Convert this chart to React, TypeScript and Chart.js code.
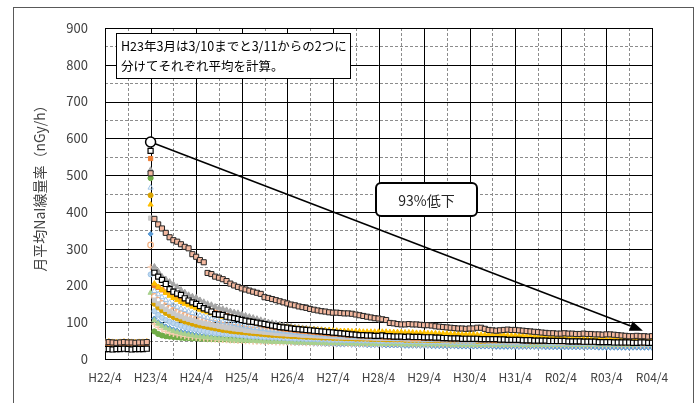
import React, { useEffect, useRef } from 'react';
import { Chart, registerables } from 'chart.js';
Chart.register(...registerables);

// ---- axis labels ----
const xTickLabels = ['H22/4', 'H23/4', 'H24/4', 'H25/4', 'H26/4', 'H27/4', 'H28/4', 'H29/4', 'H30/4', 'H31/4', 'R02/4', 'R03/4', 'R04/4'];
const yTitle = '月平均NaI線量率（nGy/h）';
const noteLines = ['H23年3月は3/10までと3/11からの2つに', '分けてそれぞれ平均を計算。'];
const dropText = '93%低下';

// ---- series (index 0..11: H22/4..H23/3(~3/10), 12: H23/3(3/11~), 13..144: H23/4..R04/3) ----
const seriesP = [45, 46, 45, 44, 45, 46, 45, 45, 44, 45, 45, 46, 505,
  381, 366, 355, 343, 331, 323, 319, 312, 305, 301, 285, 278,
  269, 263, 234, 231, 224, 221, 217, 212, 205, 200, 196, 192,
  189, 186, 183, 180, 177, 168, 166, 163, 160, 157, 154, 151,
  148, 146, 143, 141, 139, 136, 134, 132, 130, 129, 127, 126,
  126, 125, 124, 124, 123, 121, 119, 117, 115, 113, 111, 110,
  108, 106, 98, 97, 95, 94, 94, 95, 94, 94, 93, 92,
  92, 91, 89, 88, 87, 86, 85, 84, 83, 83, 82, 83,
  83, 85, 85, 82, 79, 78, 77, 78, 79, 80, 79, 79,
  78, 77, 76, 75, 74, 73, 72, 71, 70, 70, 69, 69,
  70, 69, 69, 68, 68, 69, 68, 68, 67, 67, 66, 67,
  67, 66, 65, 64, 63, 62, 62, 63, 62, 62, 61, 62];

const seriesB = [27, 27, 26, 27, 27, 28, 27, 26, 27, 27, 27, 28, 566,
  235, 224, 215, 204, 190, 183, 178, 174, 165, 159, 154, 150,
  144, 138, 134, 129, 122, 121, 120, 115, 113, 111, 109, 106,
  104, 102, 101, 99, 97, 95, 93, 91, 89, 87, 86, 85,
  83, 82, 81, 80, 79, 78, 77, 76, 75, 74, 73, 72,
  71, 70, 69, 68, 67, 66, 65, 65, 64, 64, 63, 63,
  64, 62, 62, 61, 61, 61, 60, 61, 60, 60, 60, 59,
  59, 59, 58, 58, 57, 57, 56, 56, 56, 55, 55, 55,
  55, 55, 54, 54, 54, 54, 54, 53, 53, 52, 52, 52,
  52, 51, 51, 51, 50, 50, 50, 50, 49, 49, 49, 49,
  49, 48, 48, 48, 48, 47, 47, 47, 47, 46, 46, 46,
  46, 45, 45, 45, 45, 45, 44, 44, 45, 45, 44, 44];

const seriesG = [44, 44, 43, 43, 44, 45, 44, 44, 43, 44, 44, 45, 514,
  251, 238, 224, 217, 210, 203, 196, 188, 181, 174, 170, 167,
  160, 155, 150, 147, 142, 138, 136, 133, 130, 127, 125, 122,
  118, 115, 112, 109, 106, 103, 100, 98, 96, 94, 92, 90,
  88, 86, 85, 84, 83, 82, 81, 80, 79, 78, 77, 76,
  75, 74, 73, 72, 71, 70, 70, 69, 68, 68, 67, 67,
  67, 66, 66, 65, 65, 64, 64, 64, 63, 63, 63, 62,
  62, 62, 61, 61, 60, 60, 60, 59, 59, 59, 58, 58,
  58, 58, 57, 57, 57, 56, 56, 56, 55, 55, 55, 54,
  54, 54, 54, 53, 53, 53, 53, 52, 52, 52, 52, 51,
  51, 51, 51, 50, 50, 50, 50, 50, 49, 49, 49, 49,
  49, 48, 48, 48, 48, 48, 47, 47, 47, 47, 47, 47];

const seriesY = [46, 47, 46, 45, 46, 47, 46, 46, 45, 46, 46, 47, 420,
  205, 196, 188, 180, 172, 166, 160, 155, 150, 146, 142, 138,
  134, 130, 127, 124, 121, 118, 115, 113, 111, 109, 107, 105,
  103, 101, 99, 97, 95, 93, 92, 90, 89, 88, 87, 86,
  85, 84, 83, 82, 81, 80, 80, 79, 79, 78, 78, 77,
  77, 76, 76, 76, 75, 75, 75, 74, 74, 74, 74, 74,
  74, 74, 73, 73, 73, 73, 72, 72, 72, 71, 71, 71,
  70, 70, 70, 69, 69, 69, 68, 68, 68, 67, 67, 67,
  67, 66, 66, 66, 66, 65, 65, 65, 65, 64, 64, 64,
  63, 63, 62, 62, 61, 60, 60, 59, 59, 58, 58, 57,
  57, 56, 56, 56, 55, 55, 55, 54, 54, 54, 53, 53,
  53, 53, 52, 52, 52, 52, 51, 51, 51, 51, 51, 50];

const seriesO = [42, 42, 41, 41, 42, 43, 42, 42, 41, 42, 42, 43, 545,
  200, 195, 188, 182, 176, 170, 165, 160, 156, 152, 148, 145,
  141, 137, 133, 130, 127, 124, 121, 118, 115, 112, 110, 107,
  104, 101, 99, 97, 95, 92, 90, 88, 86, 84, 82, 81,
  80, 78, 77, 76, 75, 74, 73, 72, 71, 70, 69, 68,
  68, 67, 66, 65, 65, 64, 63, 63, 62, 62, 61, 61,
  60, 60, 59, 59, 59, 58, 58, 58, 57, 57, 57, 56,
  56, 56, 55, 55, 55, 55, 54, 54, 54, 53, 53, 53,
  53, 52, 52, 52, 52, 51, 51, 51, 51, 50, 50, 50,
  50, 50, 49, 49, 49, 49, 48, 48, 48, 48, 48, 47,
  47, 47, 47, 47, 46, 46, 46, 46, 46, 45, 45, 45,
  45, 45, 45, 44, 44, 44, 44, 44, 44, 43, 43, 43];

const seriesLB = [40, 40, 39, 40, 40, 41, 40, 40, 39, 40, 40, 41, 466,
  185, 176, 168, 160, 153, 147, 142, 137, 133, 129, 125, 122,
  118, 115, 112, 109, 106, 103, 101, 99, 97, 95, 93, 91,
  89, 87, 85, 84, 82, 81, 79, 78, 77, 76, 75, 74,
  73, 72, 71, 70, 69, 68, 67, 66, 66, 65, 64, 64,
  63, 62, 62, 61, 61, 60, 60, 59, 59, 58, 58, 57,
  57, 57, 56, 56, 55, 55, 55, 54, 54, 54, 53, 53,
  53, 52, 52, 52, 51, 51, 51, 51, 50, 50, 50, 50,
  49, 49, 49, 49, 48, 48, 48, 48, 47, 47, 47, 47,
  47, 46, 46, 46, 46, 46, 45, 45, 45, 45, 45, 44,
  44, 44, 44, 44, 44, 43, 43, 43, 43, 43, 43, 42,
  42, 42, 42, 42, 42, 42, 41, 41, 41, 41, 41, 41];

const seriesBL = [38, 38, 37, 38, 38, 39, 38, 38, 37, 38, 38, 39, 340,
  110, 100, 93, 88, 84, 80, 77, 74, 72, 70, 68, 66,
  64, 63, 61, 60, 59, 58, 57, 56, 55, 54, 53, 52,
  52, 51, 50, 50, 49, 48, 48, 47, 47, 46, 46, 45,
  45, 44, 44, 44, 43, 43, 42, 42, 42, 41, 41, 41,
  40, 40, 40, 40, 39, 39, 39, 39, 38, 38, 38, 38,
  38, 37, 37, 37, 37, 37, 36, 36, 36, 36, 36, 36,
  36, 35, 35, 35, 35, 35, 35, 35, 34, 34, 34, 34,
  34, 34, 34, 34, 34, 34, 33, 33, 33, 33, 33, 33,
  33, 33, 33, 33, 33, 33, 33, 32, 32, 32, 32, 32,
  32, 32, 32, 32, 32, 32, 32, 32, 32, 31, 31, 31,
  31, 31, 31, 31, 31, 31, 31, 31, 31, 31, 31, 31];

const seriesGR = [41, 41, 40, 40, 41, 42, 41, 41, 40, 41, 41, 42, 492,
  75, 68, 64, 62, 61, 60, 59, 58, 57, 57, 56, 56,
  55, 55, 54, 54, 54, 53, 53, 53, 52, 52, 52, 51,
  51, 51, 51, 50, 50, 50, 50, 49, 49, 49, 49, 48,
  48, 48, 48, 48, 47, 47, 47, 47, 47, 46, 46, 46,
  46, 46, 46, 46, 46, 45, 45, 45, 45, 45, 45, 45,
  45, 45, 45, 44, 44, 44, 44, 44, 44, 44, 44, 44,
  44, 44, 44, 44, 44, 44, 43, 43, 43, 43, 43, 43,
  43, 43, 43, 43, 43, 43, 43, 43, 43, 43, 43, 43,
  43, 43, 43, 43, 43, 43, 43, 43, 43, 42, 42, 42,
  42, 42, 42, 42, 42, 42, 42, 42, 42, 42, 42, 42,
  42, 42, 42, 42, 42, 42, 42, 42, 42, 42, 42, 42];

const seriesGD = [43, 43, 42, 42, 43, 44, 43, 43, 42, 43, 43, 44, 445,
  150, 140, 132, 125, 119, 114, 110, 106, 102, 99, 96, 93,
  91, 89, 87, 85, 83, 81, 79, 78, 76, 75, 74, 73,
  72, 71, 70, 69, 68, 67, 66, 65, 65, 64, 63, 63,
  62, 62, 61, 61, 60, 60, 59, 59, 58, 58, 58, 57,
  57, 57, 56, 56, 56, 55, 55, 55, 55, 54, 54, 54,
  54, 53, 53, 53, 53, 53, 52, 52, 52, 52, 52, 52,
  51, 51, 51, 51, 51, 51, 50, 50, 50, 50, 50, 50,
  50, 49, 49, 49, 49, 49, 49, 49, 48, 48, 48, 48,
  48, 48, 48, 47, 47, 47, 47, 47, 47, 47, 46, 46,
  46, 46, 46, 46, 46, 46, 45, 45, 45, 45, 45, 45,
  45, 45, 45, 45, 44, 44, 44, 44, 44, 44, 44, 44];

const seriesLGray = [42, 43, 42, 41, 42, 43, 42, 42, 41, 42, 42, 43, 383,
  160, 150, 142, 135, 129, 124, 119, 115, 111, 108, 105, 102,
  99, 97, 95, 93, 91, 89, 87, 85, 84, 82, 81, 80,
  78, 77, 76, 75, 74, 73, 72, 71, 70, 69, 69, 68,
  67, 67, 66, 65, 65, 64, 64, 63, 63, 62, 62, 61,
  61, 60, 60, 60, 59, 59, 59, 58, 58, 58, 57, 57,
  57, 57, 56, 56, 56, 56, 55, 55, 55, 55, 55, 54,
  54, 54, 54, 54, 53, 53, 53, 53, 53, 52, 52, 52,
  52, 52, 52, 51, 51, 51, 51, 51, 51, 50, 50, 50,
  50, 50, 50, 50, 49, 49, 49, 49, 49, 49, 49, 48,
  48, 48, 48, 48, 48, 48, 48, 47, 47, 47, 47, 47,
  47, 47, 47, 47, 46, 46, 46, 46, 46, 46, 46, 46];

const seriesLO = [44, 45, 44, 43, 44, 45, 44, 44, 43, 44, 44, 45, 310,
  170, 160, 151, 144, 138, 132, 127, 123, 119, 115, 112, 109,
  106, 103, 100, 98, 96, 94, 92, 90, 88, 86, 85, 83,
  82, 80, 79, 78, 77, 76, 75, 74, 73, 72, 71, 70,
  69, 69, 68, 67, 67, 66, 65, 65, 64, 64, 63, 63,
  62, 62, 61, 61, 61, 60, 60, 60, 59, 59, 59, 58,
  58, 58, 58, 57, 57, 57, 57, 56, 56, 56, 56, 55,
  55, 55, 55, 55, 54, 54, 54, 54, 54, 53, 53, 53,
  53, 53, 53, 52, 52, 52, 52, 52, 52, 51, 51, 51,
  51, 51, 51, 51, 50, 50, 50, 50, 50, 50, 50, 49,
  49, 49, 49, 49, 49, 49, 49, 48, 48, 48, 48, 48,
  48, 48, 48, 48, 48, 47, 47, 47, 47, 47, 47, 47];

const seriesPL = [47, 48, 47, 46, 47, 48, 47, 47, 46, 47, 47, 48, 250,
  95, 86, 80, 75, 71, 68, 66, 64, 62, 60, 59, 58,
  57, 56, 55, 54, 53, 52, 52, 51, 50, 50, 49, 49,
  48, 48, 47, 47, 47, 46, 46, 46, 45, 45, 45, 45,
  44, 44, 44, 44, 43, 43, 43, 43, 43, 42, 42, 42,
  42, 42, 42, 41, 41, 41, 41, 41, 41, 41, 40, 40,
  40, 40, 40, 40, 40, 40, 40, 40, 39, 39, 39, 39,
  39, 39, 39, 39, 39, 39, 39, 39, 38, 38, 38, 38,
  38, 38, 38, 38, 38, 38, 38, 38, 38, 38, 37, 37,
  37, 37, 37, 37, 37, 37, 37, 37, 37, 37, 37, 37,
  37, 37, 36, 36, 36, 36, 36, 36, 36, 36, 36, 36,
  36, 36, 36, 36, 36, 36, 36, 36, 36, 36, 36, 36];

const seriesLBC = [39, 39, 38, 39, 39, 40, 39, 39, 38, 39, 39, 40, 230,
  130, 120, 112, 106, 101, 97, 93, 90, 87, 84, 82, 80,
  78, 76, 74, 73, 71, 70, 69, 68, 67, 66, 65, 64,
  63, 62, 61, 61, 60, 59, 59, 58, 58, 57, 57, 56,
  56, 55, 55, 55, 54, 54, 54, 53, 53, 53, 52, 52,
  52, 52, 51, 51, 51, 51, 50, 50, 50, 50, 50, 49,
  49, 49, 49, 49, 49, 48, 48, 48, 48, 48, 48, 47,
  47, 47, 47, 47, 47, 47, 46, 46, 46, 46, 46, 46,
  46, 46, 45, 45, 45, 45, 45, 45, 45, 45, 44, 44,
  44, 44, 44, 44, 44, 44, 44, 44, 43, 43, 43, 43,
  43, 43, 43, 43, 43, 43, 43, 42, 42, 42, 42, 42,
  42, 42, 42, 42, 42, 42, 42, 41, 41, 41, 41, 41];

const seriesLG = [37, 37, 36, 37, 37, 38, 37, 37, 36, 37, 37, 38, 180,
  105, 96, 89, 84, 80, 76, 73, 70, 68, 66, 64, 62,
  61, 60, 59, 58, 57, 56, 55, 54, 53, 53, 52, 51,
  51, 50, 50, 49, 49, 48, 48, 47, 47, 47, 46, 46,
  46, 45, 45, 45, 45, 44, 44, 44, 44, 43, 43, 43,
  43, 43, 43, 42, 42, 42, 42, 42, 42, 41, 41, 41,
  41, 41, 41, 41, 41, 40, 40, 40, 40, 40, 40, 40,
  40, 40, 40, 40, 40, 40, 39, 39, 39, 39, 39, 39,
  39, 39, 39, 39, 39, 39, 39, 39, 39, 39, 39, 38,
  38, 38, 38, 38, 38, 38, 38, 38, 38, 38, 38, 38,
  38, 38, 38, 38, 38, 38, 38, 38, 38, 38, 38, 38,
  38, 38, 38, 38, 38, 38, 38, 38, 38, 38, 38, 38];

// marked peak and arrow end (data coordinates)
const peakMark = [{ x: 12, y: 590 }];
const arrowEnd = { x: 141.6, y: 77 };

const FONT = '"Noto Sans CJK JP", "Noto Sans", sans-serif';

const toXY = (arr: number[]) => arr.map((v, i) => ({ x: i, y: v }));

type Style = { bg: string; bd: string; ps: string; r: number; bw: number };
const seriesList: [number[], Style][] = [
  [seriesP, { bg: '#F4B9A0', bd: '#262626', ps: 'rect', r: 3.6, bw: 1 }],
  [seriesB, { bg: '#FFFFFF', bd: '#000000', ps: 'rect', r: 3.6, bw: 1.2 }],
  [seriesY, { bg: '#FFC000', bd: '#FFC000', ps: 'triangle', r: 3, bw: 1 }],
  [seriesG, { bg: '#A5A5A5', bd: '#A5A5A5', ps: 'triangle', r: 3.2, bw: 1 }],
  [seriesO, { bg: '#ED7D31', bd: '#ED7D31', ps: 'rect', r: 3, bw: 1 }],
  [seriesLB, { bg: 'rgba(255,255,255,0)', bd: '#9DC3E6', ps: 'triangle', r: 3, bw: 1 }],
  [seriesLGray, { bg: '#C9C9C9', bd: '#C9C9C9', ps: 'rect', r: 3, bw: 1 }],
  [seriesLO, { bg: 'rgba(255,255,255,0)', bd: '#F4B183', ps: 'circle', r: 2.8, bw: 1.2 }],
  [seriesGD, { bg: '#D9A300', bd: '#D9A300', ps: 'circle', r: 2.5, bw: 1 }],
  [seriesLBC, { bg: '#BDD7EE', bd: '#9DC3E6', ps: 'circle', r: 2.5, bw: 1 }],
  [seriesLG, { bg: '#A9D18E', bd: '#A9D18E', ps: 'triangle', r: 3, bw: 1 }],
  [seriesPL, { bg: '#FFD966', bd: '#F8CBAD', ps: 'cross', r: 3, bw: 1.5 }],
  [seriesGR, { bg: '#70AD47', bd: '#70AD47', ps: 'circle', r: 2.6, bw: 1 }],
  [seriesBL, { bg: '#5B9BD5', bd: '#5B9BD5', ps: 'rectRot', r: 2.6, bw: 1 }],
];

const decoPlugin = {
  id: 'deco',
  beforeDraw(chart: any) {
    const ctx = chart.ctx;
    ctx.save();
    ctx.fillStyle = '#fff';
    ctx.fillRect(0, 0, chart.width, chart.height);
    ctx.strokeStyle = '#595959';
    ctx.lineWidth = 1;
    ctx.strokeRect(13.5, 7.5, 680, 420);
    // y title
    ctx.fillStyle = '#404040';
    ctx.font = `14px ${FONT}`;
    ctx.textAlign = 'center';
    ctx.textBaseline = 'middle';
    ctx.translate(40, 185);
    ctx.rotate(-Math.PI / 2);
    ctx.fillText(yTitle, 0, 0);
    ctx.restore();
  },
  beforeDatasetsDraw(chart: any) {
    const { ctx, chartArea: a, scales } = chart;
    const x = scales.x, y = scales.y;
    ctx.save();
    const hline = (v: number) => {
      const p = Math.round(y.getPixelForValue(v)) + 0.5;
      ctx.beginPath(); ctx.moveTo(a.left, p); ctx.lineTo(a.right, p); ctx.stroke();
    };
    const vline = (v: number) => {
      const p = Math.round(x.getPixelForValue(v)) + 0.5;
      ctx.beginPath(); ctx.moveTo(p, a.top); ctx.lineTo(p, a.bottom); ctx.stroke();
    };
    ctx.lineWidth = 1;
    ctx.strokeStyle = '#8C8C8C';
    ctx.setLineDash([3, 2]);
    for (let v = 50; v < 900; v += 100) hline(v);
    for (let m = 6; m < 144; m += 12) vline(m);
    ctx.setLineDash([]);
    ctx.strokeStyle = '#000';
    for (let v = 100; v < 900; v += 100) hline(v);
    for (let m = 12; m < 144; m += 12) vline(m);
    ctx.strokeRect(Math.round(a.left) + 0.5, Math.round(a.top) + 0.5, Math.round(a.right - a.left), Math.round(a.bottom - a.top));

    // arrow
    const sx = x.getPixelForValue(peakMark[0].x), sy = y.getPixelForValue(peakMark[0].y);
    const ex = x.getPixelForValue(arrowEnd.x), ey = y.getPixelForValue(arrowEnd.y);
    const ang = Math.atan2(ey - sy, ex - sx);
    const hl = 13, hw = 5;
    ctx.strokeStyle = '#000';
    ctx.lineWidth = 1.5;
    ctx.beginPath();
    ctx.moveTo(sx, sy);
    ctx.lineTo(ex - hl * Math.cos(ang), ey - hl * Math.sin(ang));
    ctx.stroke();
    ctx.fillStyle = '#000';
    ctx.beginPath();
    ctx.moveTo(ex, ey);
    ctx.lineTo(ex - hl * Math.cos(ang) + hw * Math.sin(ang), ey - hl * Math.sin(ang) - hw * Math.cos(ang));
    ctx.lineTo(ex - hl * Math.cos(ang) - hw * Math.sin(ang), ey - hl * Math.sin(ang) + hw * Math.cos(ang));
    ctx.closePath();
    ctx.fill();
    ctx.restore();
  },
  afterDatasetsDraw(chart: any) {
    const ctx = chart.ctx;
    ctx.save();
    // note box
    ctx.fillStyle = '#fff';
    ctx.fillRect(116, 33, 234, 45);
    ctx.strokeStyle = '#000';
    ctx.lineWidth = 1;
    ctx.strokeRect(116.5, 33.5, 234, 45);
    ctx.fillStyle = '#000';
    ctx.font = `12.5px ${FONT}`;
    ctx.textAlign = 'left';
    ctx.textBaseline = 'middle';
    ctx.fillText(noteLines[0], 121, 46);
    ctx.fillText(noteLines[1], 121, 66);
    // drop box
    const bx = 376, by = 183, bw = 101, bh = 33, r = 5;
    ctx.beginPath();
    ctx.moveTo(bx + r, by);
    ctx.arcTo(bx + bw, by, bx + bw, by + bh, r);
    ctx.arcTo(bx + bw, by + bh, bx, by + bh, r);
    ctx.arcTo(bx, by + bh, bx, by, r);
    ctx.arcTo(bx, by, bx + bw, by, r);
    ctx.closePath();
    ctx.fillStyle = '#fff';
    ctx.fill();
    ctx.lineWidth = 2;
    ctx.strokeStyle = '#000';
    ctx.stroke();
    ctx.fillStyle = '#262626';
    ctx.font = `14px ${FONT}`;
    ctx.textAlign = 'center';
    ctx.fillText(dropText, bx + bw / 2, by + bh / 2 + 1);
    ctx.restore();
  },
};

export default function App() {
  const ref = useRef<HTMLCanvasElement | null>(null);
  useEffect(() => {
    if (!ref.current) return;
    const datasets: any[] = [
      {
        data: peakMark,
        pointStyle: 'circle',
        pointRadius: 5,
        backgroundColor: '#fff',
        borderColor: '#000',
        borderWidth: 1.5,
      },
      ...seriesList.map(([arr, s]) => ({
        data: toXY(arr),
        pointStyle: s.ps,
        pointRadius: s.r,
        backgroundColor: s.bg,
        borderColor: s.bd,
        borderWidth: s.bw,
        showLine: false,
      })),
    ];
    const chart = new Chart(ref.current, {
      type: 'scatter',
      data: { datasets },
      options: {
        animation: false,
        responsive: false,
        layout: { padding: { top: 28, right: 46, left: 0, bottom: 0 } },
        plugins: { legend: { display: false }, tooltip: { enabled: false } },
        scales: {
          x: {
            type: 'linear',
            min: 0,
            max: 144,
            grid: { display: false },
            border: { display: false },
            afterFit: (s: any) => { s.height = 44; },
            ticks: {
              stepSize: 12,
              autoSkip: false,
              maxRotation: 0,
              padding: 3,
              color: '#404040',
              font: { family: FONT, size: 12 },
              callback: (v: any) => xTickLabels[Math.round(Number(v) / 12)] ?? '',
            },
          },
          y: {
            type: 'linear',
            min: 0,
            max: 900,
            grid: { display: false },
            border: { display: false },
            afterFit: (s: any) => { s.width = 105; },
            ticks: {
              stepSize: 100,
              padding: 9,
              color: '#404040',
              font: { family: FONT, size: 13 },
            },
          },
        },
      } as any,
      plugins: [decoPlugin],
    });
    return () => chart.destroy();
  }, []);
  return (
    <div style={{ position: 'fixed', left: 0, top: 0, width: 698, height: 403 }}>
      <canvas ref={ref} width={698} height={403} />
    </div>
  );
}
